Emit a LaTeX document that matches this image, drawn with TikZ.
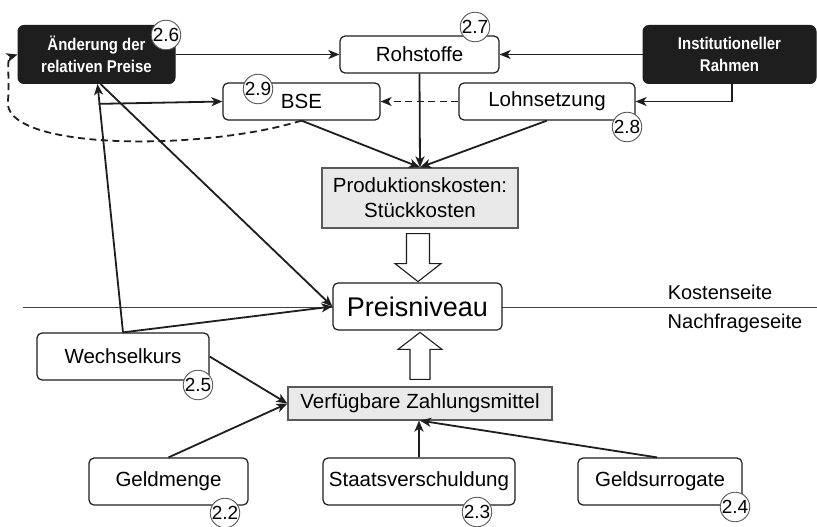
\documentclass[tikz,border=0pt]{standalone}
\usepackage{fontspec}
\setmainfont{Liberation Sans}
\newfontfamily\narrowfont{Liberation Sans}[FakeStretch=0.88]
\usetikzlibrary{arrows.meta,calc}
\definecolor{ink}{HTML}{1E1E1E}
\definecolor{boxgrey}{HTML}{E9E9E9}
\tikzset{
  rbox/.style={draw=ink, line width=1.2pt, rounded corners=5pt, fill=white, inner sep=0pt, align=center,
    font=\fontsize{20.5}{24}\selectfont},
  gbox/.style={draw=gray!70!black, line width=1.2pt, fill=boxgrey, inner sep=0pt, align=center,
    font=\fontsize{20.5}{25}\selectfont},
  dbox/.style={draw=ink, line width=1pt, rounded corners=6pt, fill=ink, text=white, inner sep=0pt, align=center,
    font=\narrowfont\bfseries\fontsize{17}{22}\selectfont},
  numc/.style={circle, draw=gray!70!black, fill=white, line width=0.9pt, minimum size=29pt, inner sep=0pt,
    font=\fontsize{19}{19}\selectfont},
  arr/.style={-{Stealth[length=11pt,width=9pt,inset=3pt]}, line width=1.8pt, draw=ink},
  darr/.style={arr, dash pattern=on 7pt off 4.5pt},
  hollow/.style={draw=ink, line width=1.1pt, fill=white, line join=miter},
  side/.style={inner sep=0pt, font=\fontsize{20}{20}\selectfont}
}
\begin{document}
\begin{tikzpicture}[x=1pt,y=-1pt]
\fill[white] (0,0) rectangle (817,527);
\useasboundingbox (0,0) rectangle (817,527);

% dividing line
\coordinate (L0) at (23,307);
\coordinate (L1) at (817,307);
\draw[line width=1pt, draw=ink!85] (L0) -- (L1);
\node[side] (kost) at (720,292) {Kostenseite};
\node[side] (nach) at (735,323) {Nachfrageseite};

% top row
\node[dbox, minimum width=157pt, minimum height=58pt] (aend) at (96.5,54.5) {\"Anderung der\\relativen Preise};
\node[rbox, minimum width=159pt, minimum height=37pt] (roh) at (419.5,54.5) {Rohstoffe};
\node[dbox, minimum width=173pt, minimum height=58pt] (inst) at (729.5,54.5) {Institutioneller\\Rahmen};
\node[rbox, minimum width=157pt, minimum height=37pt] (bse) at (301.5,101.5) {BSE};
\node[rbox, minimum width=176pt, minimum height=37pt] (lohn) at (547,101.5) {Lohnsetzung};
\node[gbox, minimum width=196pt, minimum height=60pt] (prod) at (420,198) {Produktionskosten:\\St\"uckkosten};
\node[rbox, minimum width=169pt, minimum height=47pt, font=\fontsize{27}{30}\selectfont] (preis) at (417.5,306.5) {Preisniveau};

% bottom
\node[rbox, minimum width=172pt, minimum height=47pt] (wech) at (123,356.5) {Wechselkurs};
\node[gbox, minimum width=264pt, minimum height=33pt] (verf) at (420,403.5) {Verf\"ugbare Zahlungsmittel};
\node[rbox, minimum width=159pt, minimum height=47pt] (geld) at (168.5,481.5) {Geldmenge};
\node[rbox, minimum width=192pt, minimum height=47pt] (staat) at (419,481.5) {Staatsverschuldung};
\node[rbox, minimum width=164pt, minimum height=47pt] (surr) at (660,481.5) {Geldsurrogate};

% connectors top
\draw[arr] (aend.east) -- (roh.west);
\draw[arr] (inst.west) -- (roh.east);
\draw[arr] ([xshift=2.5pt]inst.south) |- (lohn.east);
\draw[darr] (lohn.west) -- (bse.east);
\draw[arr] (roh.south) -- (prod.north);
\draw[arr] (bse.south) -- (prod.north);
\draw[arr] (lohn.south) -- (prod.north);
\draw[arr] (wech.north) -- ([xshift=1pt]aend.south);
\draw[arr] ([xshift=4pt]aend.south) -- (preis.west);
\draw[arr] (wech.north) -- (preis.west);
\coordinate (b0) at ($(aend.south)!0.08!(wech.north)$);
\draw[arr] (b0) -- (bse.west);
\coordinate (dk) at (8,100);
\draw[darr] (bse.south) .. controls (200,152) and (0,150) .. (dk)
  .. controls (10,82) and (6,58) .. (aend.west);

% connectors bottom
\draw[arr] (wech.east) -- (verf.west);
\draw[arr] (geld.north) -- (verf.west);
\draw[arr] (staat.north) -- (staat.north |- verf.south);
\draw[arr] ([xshift=-3pt]surr.north) -- (verf.south);

% hollow arrows
\coordinate (da) at ($(prod.south)+(-2,5)$);
\draw[hollow] ($(da)+(-11.5,0)$) -- ($(da)+(11.5,0)$) -- ($(da)+(11.5,30)$) -- ($(da)+(23,30)$)
  -- ($(da)+(0,48)$) -- ($(da)+(-23,30)$) -- ($(da)+(-11.5,30)$) -- cycle;
\coordinate (ua) at ($(verf.north)+(0,-7)$);
\draw[hollow] ($(ua)+(-10,0)$) -- ($(ua)+(10,0)$) -- ($(ua)+(10,-30)$) -- ($(ua)+(22,-30)$)
  -- ($(ua)+(0,-47)$) -- ($(ua)+(-22,-30)$) -- ($(ua)+(-10,-30)$) -- cycle;

% number circles
\node[numc] (c26) at (166,35) {2.6};
\node[numc] (c27) at (475,27) {2.7};
\node[numc] (c29) at (258,89) {2.9};
\node[numc] (c28) at (627,127) {2.8};
\node[numc] (c25) at (198,385) {2.5};
\node[numc] (c22) at (225,513) {2.2};
\node[numc] (c23) at (477,512) {2.3};
\node[numc] (c24) at (735,507) {2.4};
\end{tikzpicture}
\end{document}
